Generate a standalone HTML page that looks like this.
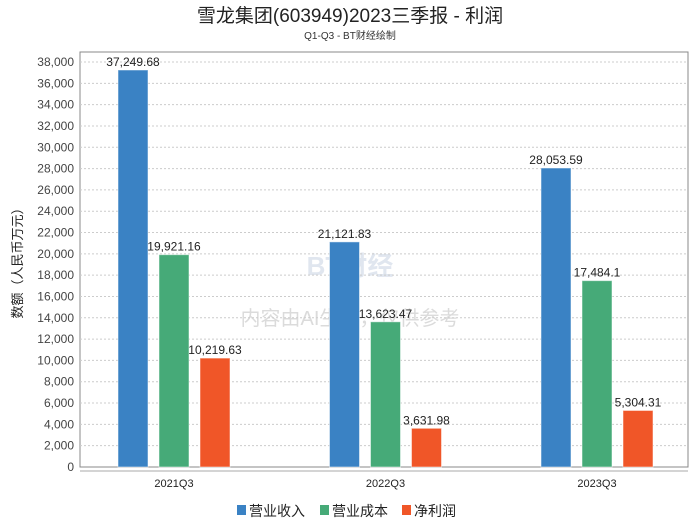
<!DOCTYPE html>
<html><head><meta charset="utf-8"><style>
body{margin:0;background:#fff;font-family:"Liberation Sans","Noto Sans CJK SC",sans-serif}
</style></head><body>
<svg id="c" width="700" height="524" xmlns="http://www.w3.org/2000/svg" font-family="Liberation Sans, Noto Sans CJK SC, sans-serif">
<text x="350" y="22" text-anchor="middle" font-size="19" fill="#222">雪龙集团(603949)2023三季报 - 利润</text>
<text x="350" y="39" text-anchor="middle" font-size="10" fill="#333">Q1-Q3 - BT财经绘制</text>
<text x="350" y="275" text-anchor="middle" font-size="26" fill="#ccd6e6" opacity="0.6" font-weight="bold">BT财经</text>
<text x="350" y="325" text-anchor="middle" font-size="20" fill="#ccc" opacity="0.7">内容由AI生成，仅供参考</text>
<rect x="80" y="52" width="608" height="415" fill="none" stroke="#888"/>
<g id="grid"></g><g id="bars"></g><g id="labels"></g>
<line x1="80" y1="471" x2="688" y2="471" stroke="#aaa"/>
<text transform="translate(22,260) rotate(-90)" text-anchor="middle" font-size="13" fill="#222">数额（人民币万元）</text>
<g font-size="14" fill="#222">
<rect x="237" y="505" width="9" height="10" fill="#3a82c4"/>
<text x="249" y="516">营业收入</text>
<rect x="320" y="505" width="9" height="10" fill="#46aa78"/>
<text x="332" y="516">营业成本</text>
<rect x="402" y="505" width="9" height="10" fill="#f05628"/>
<text x="414" y="516">净利润</text>
</g>
</svg>
<script>
const categories=["2021Q3","2022Q3","2023Q3"];
const revenue=[37249.68,21121.83,28053.59];
const cost=[19921.16,13623.47,17484.1];
const profit=[10219.63,3631.98,5304.31];
const yTicks=[0,2000,4000,6000,8000,10000,12000,14000,16000,18000,20000,22000,24000,26000,28000,30000,32000,34000,36000,38000];
const NS="http://www.w3.org/2000/svg";
const y=v=>467-v*(405/38000);
const xc=i=>174+211.5*i;
function mk(t,a,p){const e=document.createElementNS(NS,t);for(const k in a)e.setAttribute(k,a[k]);document.getElementById(p).appendChild(e);return e;}
yTicks.forEach(v=>{
 if(v>0){const l=mk('line',{x1:80,x2:688,y1:y(v),y2:y(v),stroke:'#ccc','stroke-dasharray':'2,2'},'grid');
 
 }
 const t=mk('text',{x:74,y:y(v)+4,'text-anchor':'end','font-size':12,fill:'#444'},'grid');
 t.textContent=v.toLocaleString('en-US');
 
 
});
const series=[[revenue,'#3a82c4',-41,'revenue'],[cost,'#46aa78',0,'cost'],[profit,'#f05628',41,'profit']];
categories.forEach((c,i)=>{
 const t=mk('text',{x:xc(i),y:487,'text-anchor':'middle','font-size':11,fill:'#222'},'labels');
 t.textContent=c;
 
 
 series.forEach(([d,col,off,nm])=>{
  const cx=xc(i)+off;
  const r=mk('rect',{x:cx-15,y:y(d[i]),width:30,height:467-y(d[i]),fill:col,stroke:'#fff','stroke-opacity':0.5},'bars');
  
  
  const l=mk('text',{x:cx,y:y(d[i])-4,'text-anchor':'middle','font-size':12,fill:'#222'},'labels');
  l.textContent=d[i].toLocaleString('en-US',{maximumFractionDigits:2});
  
  
 });
});
</script>
</body></html>
